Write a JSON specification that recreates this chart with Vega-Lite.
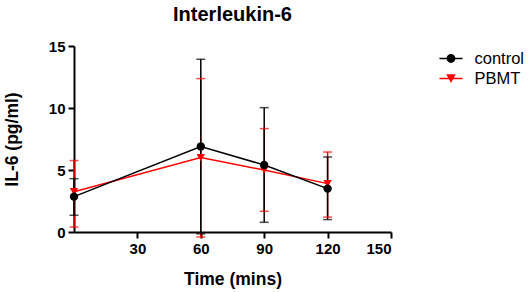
{
  "$schema": "https://vega.github.io/schema/vega-lite/v6.json",
  "autosize": {"type": "none"},
  "padding": {"left": 74, "top": 46, "right": 138, "bottom": 60},
  "width": 317,
  "height": 186,
  "background": "white",
  "title": {"text": "Interleukin-6", "font": "Liberation Sans", "fontSize": 20, "fontWeight": "bold", "color": "black", "offset": 14, "anchor": "middle", "frame": "group"},
  "config": {
    "view": {"stroke": null},
    "axis": {"domainColor": "black", "domainWidth": 2, "tickColor": "black", "tickWidth": 2, "tickSize": 6, "labelFont": "Liberation Sans", "labelFontSize": 15, "labelFontWeight": "bold", "labelColor": "black", "titleFont": "Liberation Sans", "titleFontSize": 17.5, "titleFontWeight": "bold", "titleColor": "black", "grid": false, "labelPadding": 3},
    "legend": {
      "title": null, "orient": "none", "legendX": 365.5, "legendY": 1,
      "labelFont": "Liberation Sans", "labelFontSize": 16.5, "labelColor": "black", "labelOffset": 12,
      "symbolSize": 441, "rowPadding": 0, "symbolOpacity": 1
    }
  },
  "data": {
    "values": [
      {"group": "PBMT", "time": 0, "mean": 3.25, "lower": 0.4, "upper": 5.76},
      {"group": "PBMT", "time": 60, "mean": 6.0, "lower": -0.4, "upper": 12.37},
      {"group": "PBMT", "time": 90, "mean": 5.0, "lower": 1.67, "upper": 8.34},
      {"group": "PBMT", "time": 120, "mean": 3.9, "lower": 1.2, "upper": 6.45},
      {"group": "control", "time": 0, "mean": 2.85, "lower": 1.35, "upper": 4.3},
      {"group": "control", "time": 60, "mean": 6.9, "lower": -0.15, "upper": 13.93},
      {"group": "control", "time": 90, "mean": 5.4, "lower": 0.78, "upper": 10.03},
      {"group": "control", "time": 120, "mean": 3.5, "lower": 1.0, "upper": 6.05}
    ]
  },
  "encoding": {
    "x": {"field": "time", "type": "quantitative", "scale": {"domain": [0, 150], "nice": false, "zero": false}, "axis": {"values": [30, 60, 90, 120, 150], "title": "Time (mins)", "titlePadding": 14}}
  },
  "resolve": {"scale": {"shape": "independent"}, "legend": {"color": "independent", "shape": "independent"}},
  "layer": [
    {
      "mark": {"type": "rule", "strokeWidth": 1.5},
      "encoding": {
        "y": {"field": "lower", "type": "quantitative", "scale": {"domain": [0, 15], "nice": false}, "axis": {"values": [0, 5, 10, 15], "title": "IL-6 (pg/ml)", "titlePadding": 27}},
        "y2": {"field": "upper"},
        "color": {"field": "group", "type": "nominal", "scale": {"domain": ["control", "PBMT"], "range": ["#000000", "#ff0000"]}, "legend": null}
      }
    },
    {
      "mark": {"type": "tick", "orient": "horizontal", "size": 9, "thickness": 1.5},
      "encoding": {
        "y": {"field": "upper", "type": "quantitative"},
        "color": {"field": "group", "type": "nominal", "legend": null}
      }
    },
    {
      "mark": {"type": "tick", "orient": "horizontal", "size": 9, "thickness": 1.5},
      "encoding": {
        "y": {"field": "lower", "type": "quantitative"},
        "color": {"field": "group", "type": "nominal", "legend": null}
      }
    },
    {
      "mark": {"type": "line", "strokeWidth": 1.5},
      "encoding": {
        "y": {"field": "mean", "type": "quantitative"},
        "color": {"field": "group", "type": "nominal", "legend": null}
      }
    },
    {
      "mark": {"type": "point", "filled": true, "opacity": 1},
      "encoding": {
        "y": {"field": "mean", "type": "quantitative"},
        "color": {"field": "group", "type": "nominal", "legend": null},
        "shape": {"field": "group", "type": "nominal", "scale": {"domain": ["control", "PBMT"], "range": ["circle", "triangle-down"]}, "legend": null},
        "size": {"value": 70}
      }
    },
    {
      "mark": {"type": "point", "filled": true, "opacity": 0},
      "encoding": {
        "y": {"field": "mean", "type": "quantitative"},
        "color": {"field": "group", "type": "nominal", "legend": {}},
        "shape": {"field": "group", "type": "nominal", "scale": {"domain": ["control", "PBMT"], "range": ["M-1.1,-0.065L1.1,-0.065L1.1,0.065L-1.1,0.065Z M-0.42,0A0.42,0.42 0 1 1 0.42,0A0.42,0.42 0 1 1 -0.42,0Z", "M-1.1,-0.065L1.1,-0.065L1.1,0.065L-1.1,0.065Z M-0.45,-0.4L0.45,-0.4L0,0.42Z"]}, "legend": {}}
      }
    }
  ]
}
